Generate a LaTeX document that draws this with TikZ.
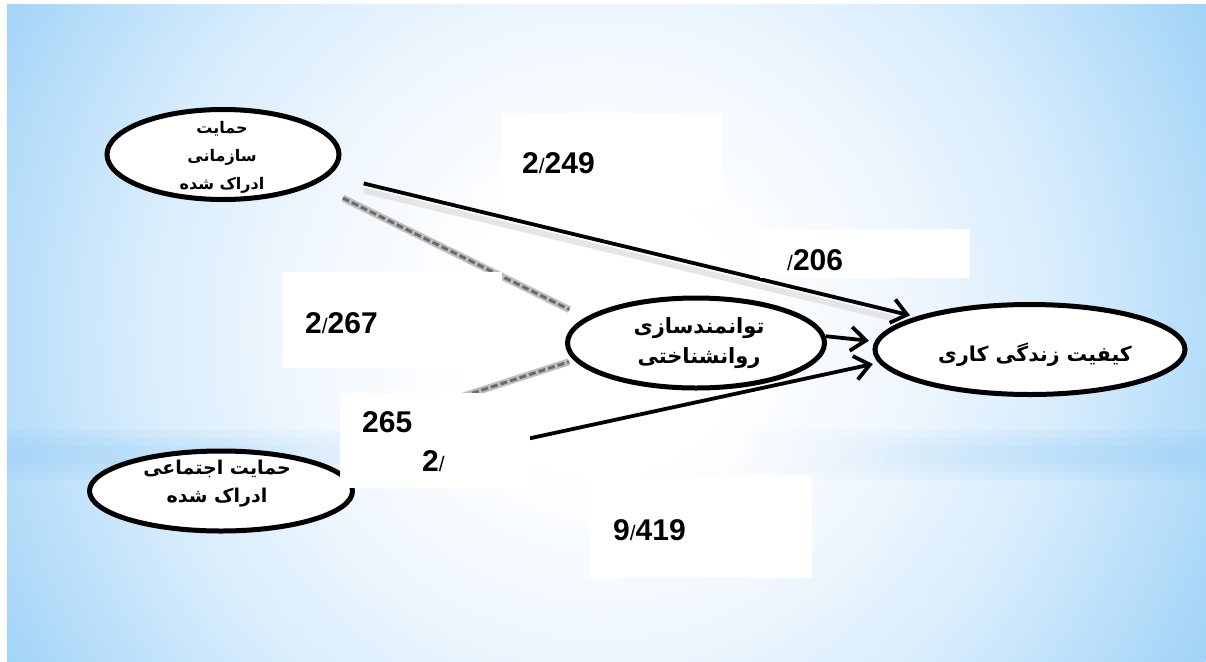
\documentclass[tikz,border=0pt]{standalone}
\usepackage{fontspec}
\usetikzlibrary{arrows.meta,fadings,shapes.geometric}
\TeXXeTstate=1
\newfontfamily\arabicfont[Script=Arabic]{DejaVu Sans}
\newfontfamily\numfont{Liberation Sans}
\definecolor{bgblue}{RGB}{160,211,248}
\definecolor{bgmid}{RGB}{214,236,252}
\definecolor{bgpale}{RGB}{240,247,254}
\pgfdeclareradialshading{bgrad}{\pgfpoint{0bp}{0bp}}{color(0bp)=(white); color(5bp)=(white); color(11bp)=(bgpale); color(17bp)=(bgmid); color(25bp)=(bgblue); color(50bp)=(bgblue)}
\newcommand{\numsep}{{\mdseries\fontsize{21}{21}\selectfont/}}
\begin{document}
\begin{tikzpicture}[x=1pt,y=-1pt,
  var/.style={ellipse, draw, line width=5pt, fill=white, inner sep=0pt},
  vartext/.style={font=\arabicfont\bfseries, align=center, inner sep=0pt},
  lblbox/.style={fill=white, inner sep=0pt, anchor=north west},
  num/.style={font=\numfont\bfseries\fontsize{30}{30}\selectfont, inner sep=0pt, anchor=west},
  arr/.style={line width=3.8pt, -{Straight Barb[length=15pt,width=24pt,line width=3.8pt]}, shorten >=6pt},
  grayln/.style={line width=3pt, draw=black!58, dash pattern=on 7pt off 3pt},
  grayhalo/.style={line width=7pt, draw=black!25},
  shadowln/.style={line width=6pt, draw=black!10},
  band/.style={fill=bgblue, opacity=0.25}]
\useasboundingbox (0,0) rectangle (1206,661);
\fill[white] (0,0) rectangle (1206,661);
\begin{scope}
  \clip (7,5) rectangle (1206,661);
  \fill[bgblue] (7,5) rectangle (1206,661);
  \shade[shading=bgrad] (600,330) circle (690);
  \fill[band, path fading=east] (7,430) rectangle (500,480);
  \fill[band, path fading=east] (7,438) rectangle (450,472);
  \fill[band, path fading=east] (7,446) rectangle (400,464);
  \fill[band, path fading=west] (740,430) rectangle (1206,480);
  \fill[band, path fading=west] (790,438) rectangle (1206,472);
  \fill[band, path fading=west] (840,446) rectangle (1206,464);
\end{scope}

% variables
\node[var, minimum width=232pt, minimum height=90pt] (e1) at (223,154.5) {};
\node[var, minimum width=263pt, minimum height=80pt] (e2) at (221,491) {};
\node[var, minimum width=257pt, minimum height=90pt] (e3) at (696,343) {};
\node[var, minimum width=310pt, minimum height=90pt] (e4) at (1030,349.5) {};

\node[vartext, font=\arabicfont\bfseries\fontsize{16}{28}\selectfont] (t1) at (222,157) {\beginR حمایت\endR\\ \beginR سازمانی\endR\\ \beginR ادراک شده\endR};
\node[vartext, font=\arabicfont\bfseries\fontsize{19}{28}\selectfont] (t2) at (217,484) {\beginR حمایت اجتماعی\endR\\ \beginR ادراک شده\endR};
\node[vartext, font=\arabicfont\bfseries\fontsize{21}{30}\selectfont] (t3) at (699,343) {\beginR توانمندسازی\endR\\ \beginR روانشناختی\endR};
\node[vartext, font=\arabicfont\bfseries\fontsize{20.5}{30}\selectfont] (t4) at (1035,355) {\beginR کیفیت زندگی کاری\endR};

% connectors
\draw[shadowln, shorten <=35pt, shorten >=22pt] ([yshift=-7pt]e1.-11) -- ([yshift=-7pt]e4.164);
\draw[grayhalo, shorten <=31pt, shorten >=18pt] (e1.-18) -- (e3.167);
\draw[grayln, shorten <=31pt, shorten >=18pt] (e1.-18) -- (e3.167);
\draw[grayhalo, shorten <=66pt, shorten >=5pt] (e2.30) -- (e3.188);
\draw[grayln, shorten <=66pt, shorten >=5pt] (e2.30) -- (e3.188);
\draw[arr, shorten <=35pt] (e1.-11) -- (e4.164);
\draw[arr] (e3.3) -- (e4.177);
\draw[arr] (e2.6) -- (e4.185);

% label boxes
\node[lblbox, minimum width=220pt, minimum height=94pt] (b1) at (502,113) {};
\node[lblbox, minimum width=210pt, minimum height=49pt] (b2) at (760,229) {};
\node[lblbox, minimum width=219pt, minimum height=96pt] (b3) at (283,272) {};
\node[lblbox, minimum width=190pt, minimum height=95pt] (b4) at (340,393) {};
\node[lblbox, minimum width=222pt, minimum height=103pt] (b5) at (590,475) {};

\node[num] (n1) at (522,163) {2\numsep249};
\node[num] (n2) at (787,260) {\numsep206};
\node[num] (n3) at (305,323) {2\numsep267};
\node[num] (n4a) at (362,422) {265};
\node[num] (n4b) at (422,461) {2\numsep};
\node[num] (n5) at (613,530) {9\numsep419};
\end{tikzpicture}
\end{document}
